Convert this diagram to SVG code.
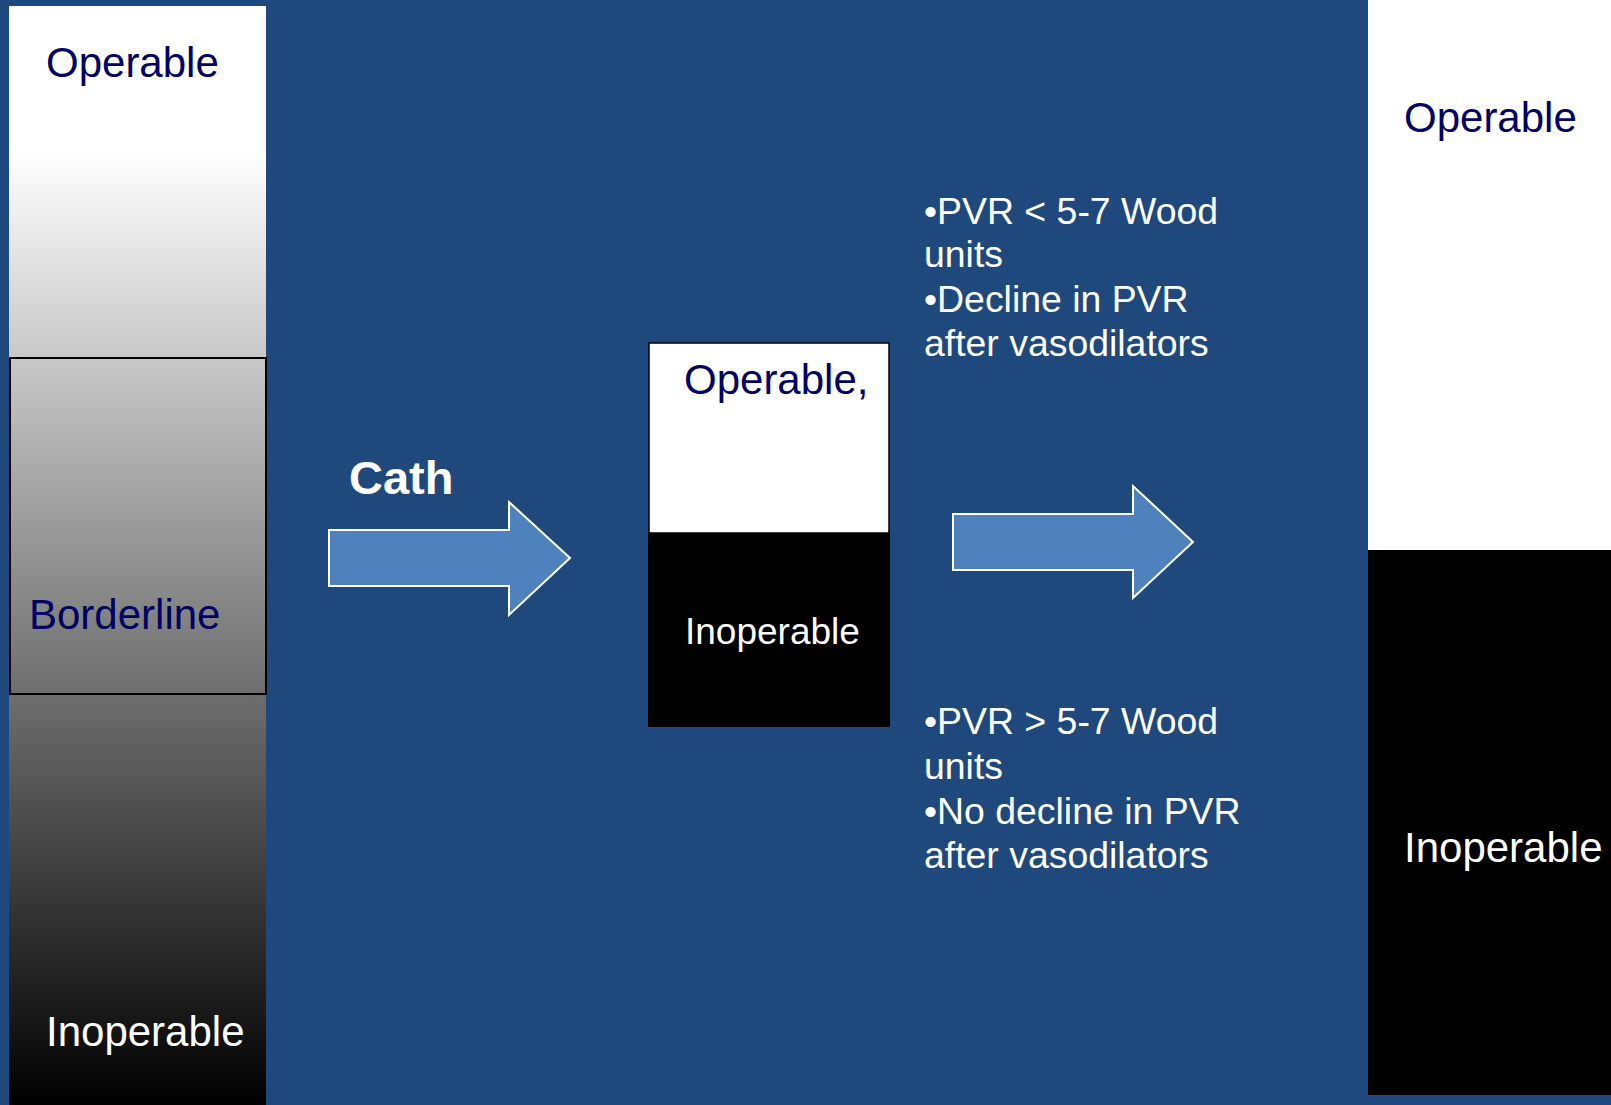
<svg xmlns="http://www.w3.org/2000/svg" width="1611" height="1105" viewBox="0 0 1611 1105">
<style>
text{font-family:"Liberation Sans",Arial,sans-serif}
.navy{fill:#000066;font-size:42px}
.wht{fill:#ffffff;font-size:42px}
.bul{fill:#ffffff;font-size:37.4px}
.arrow{fill:#4f81bd;stroke:#ffffff;stroke-width:2}
</style>
<defs>
<linearGradient id="g" gradientUnits="userSpaceOnUse" x1="0" y1="150" x2="0" y2="1105">
<stop offset="0" stop-color="#ffffff"/>
<stop offset="1" stop-color="#000000"/>
</linearGradient>
</defs>
<rect width="1611" height="1105" fill="#1f497d"/>
<g id="left-column">
<rect x="9" y="6" width="257" height="1099" fill="url(#g)"/>
<rect x="10" y="358" width="256" height="336" fill="url(#g)" stroke="#000" stroke-width="2"/>
<text class="navy" x="46" y="77">Operable</text>
<text class="navy" x="29" y="629">Borderline</text>
<text class="wht" x="46" y="1046">Inoperable</text>
</g>
<g id="cath-label">
<text x="349" y="494" fill="#fff" font-size="47" font-weight="bold">Cath</text>
</g>
<g id="connectors">
<path class="arrow" d="M329 530H509V502L570 558L509 615V586H329Z"/>
<path class="arrow" d="M953 514H1133V486L1193 542L1133 598V570H953Z"/>
</g>
<g id="middle-box">
<rect x="649" y="343" width="240" height="190" fill="#fff" stroke="#000" stroke-width="1.5"/>
<rect x="648" y="533" width="242" height="194" fill="#000"/>
<text class="navy" x="684" y="394">Operable,</text>
<text class="wht" x="685" y="644" style="font-size:37px">Inoperable</text>
</g>
<g id="upper-criteria">
<text class="bul" x="924" y="224">•PVR &lt; 5-7 Wood</text>
<text class="bul" x="924" y="267">units</text>
<text class="bul" x="924" y="312">•Decline in PVR</text>
<text class="bul" x="924" y="356">after vasodilators</text>
</g>
<g id="lower-criteria">
<text class="bul" x="924" y="734">•PVR &gt; 5-7 Wood</text>
<text class="bul" x="924" y="779">units</text>
<text class="bul" x="924" y="824">•No decline in PVR</text>
<text class="bul" x="924" y="868">after vasodilators</text>
</g>
<g id="right-column">
<rect x="1368" y="0" width="243" height="550" fill="#fff"/>
<rect x="1368" y="550" width="243" height="545" fill="#000"/>
<text class="navy" x="1404" y="132">Operable</text>
<text class="wht" x="1404" y="862">Inoperable</text>
</g>
</svg>
